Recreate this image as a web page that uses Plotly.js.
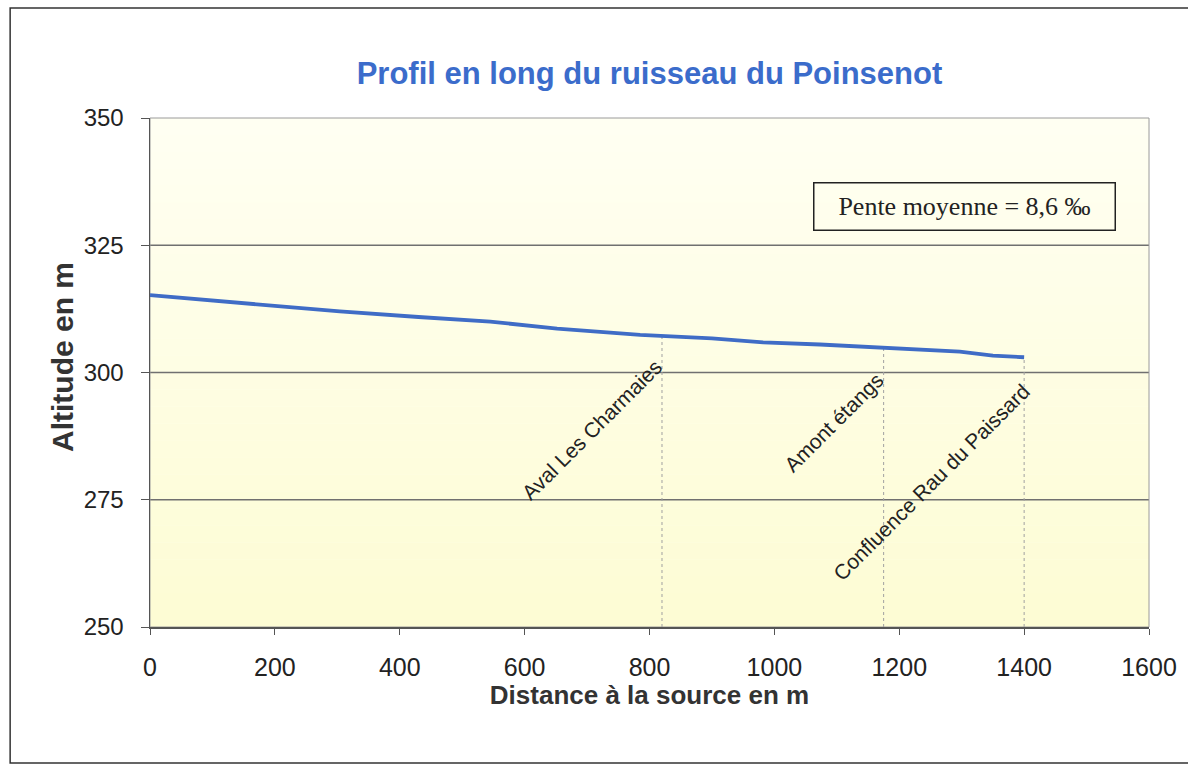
<!DOCTYPE html>
<html>
<head>
<meta charset="utf-8">
<script src="https://cdn.plot.ly/plotly-3.0.1.min.js"></script>
<style>
  html, body { margin: 0; padding: 0; background: #ffffff; }
  #chart { width: 1188px; height: 769px; }
</style>
</head>
<body>
<div id="chart"></div>
<script>
// ---- Data ----
const distance = [0, 150, 304, 430, 545, 652, 785, 900, 982, 1073, 1174, 1238, 1297, 1350, 1400];
const altitude = [315.2, 313.6, 312.0, 310.9, 310.0, 308.6, 307.4, 306.7, 305.9, 305.5, 304.9, 304.5, 304.1, 303.3, 303.0];

const pointNames = ["Aval Les Charmaies", "Amont étangs", "Confluence Rau du Paissard"];
const pointDistance = [820, 1175, 1400];

const xTickValues = [0, 200, 400, 600, 800, 1000, 1200, 1400, 1600];
const yTickValues = [250, 275, 300, 325, 350];

const chartTitle = "Profil en long du ruisseau du Poinsenot";
const xTitle = "Distance à la source en m";
const yTitle = "Altitude en m";
const slopeNote = "Pente moyenne = 8,6 ‰";

// ---- Helpers ----
function altAt(d) {
  for (let i = 0; i < distance.length - 1; i++) {
    if (d >= distance[i] && d <= distance[i + 1]) {
      const t = (d - distance[i]) / (distance[i + 1] - distance[i]);
      return altitude[i] + t * (altitude[i + 1] - altitude[i]);
    }
  }
  return altitude[altitude.length - 1];
}

const sans = "Liberation Sans, Arial, sans-serif";

const traces = [];
// drop lines
pointDistance.forEach(function (d) {
  traces.push({
    x: [d, d], y: [yTickValues[0], altAt(d)],
    mode: "lines", type: "scatter", hoverinfo: "skip", showlegend: false,
    line: { color: "#a0a0a0", width: 1, dash: "dot" }
  });
});
// profile
traces.push({
  x: distance, y: altitude, mode: "lines", type: "scatter", showlegend: false,
  line: { color: "#3F6CC6", width: 3.8 }
});

// gradient background bands
const shapes = [];
const nb = 30;
for (let i = 0; i < nb; i++) {
  const t = i / (nb - 1);
  const r = Math.round(255 - 2 * t), g = Math.round(255 - 3 * t), b = Math.round(242 - 30 * t);
  shapes.push({
    type: "rect", xref: "paper", yref: "paper", layer: "below",
    x0: 0, x1: 1, y0: 1 - (i + 1) / nb, y1: 1 - i / nb,
    fillcolor: "rgb(" + r + "," + g + "," + b + ")", line: { width: 0 }
  });
}
// gridlines on top of the gradient
yTickValues.slice(1, -1).forEach(function (v) {
  shapes.push({
    type: "line", xref: "paper", yref: "y", layer: "below",
    x0: 0, x1: 1, y0: v, y1: v, line: { color: "#707070", width: 1.5 }
  });
});
// plot-area border (light)
shapes.push({
  type: "rect", xref: "paper", yref: "paper", layer: "below",
  x0: 0, x1: 1, y0: 0, y1: 1, line: { color: "#9a9a9a", width: 1 }
});
// outer frame of the figure
shapes.push({
  type: "rect", xref: "paper", yref: "paper", layer: "above",
  x0: -0.140, x1: 1.045, y0: -0.267, y1: 1.216,
  line: { color: "#333333", width: 1.5 }
});

// label offsets (pixels) from the anchor at (distance, 300)
const labelOffsets = [[-70, 57], [-50, 50], [-93, 110]];
const annotations = pointNames.map(function (name, i) {
  return {
    x: pointDistance[i], y: 300, xref: "x", yref: "y",
    text: name, showarrow: true, arrowcolor: "rgba(0,0,0,0)", arrowwidth: 0.1,
    ax: labelOffsets[i][0], ay: labelOffsets[i][1],
    textangle: -45, font: { family: sans, size: 21, color: "#222222" }
  };
});
annotations.push({
  xref: "paper", yref: "paper", x: 0.815, y: 0.826,
  xanchor: "center", yanchor: "middle", showarrow: false,
  text: slopeNote, width: 300, height: 46, align: "center", valign: "middle",
  bordercolor: "#222222", borderwidth: 1.5, borderpad: 0,
  font: { family: "Liberation Serif, Times New Roman, serif", size: 26, color: "#222222" }
});
// y-axis title
annotations.push({
  xref: "paper", yref: "paper", x: (62 - 150) / 999, y: (627 - 357) / 509,
  xanchor: "center", yanchor: "middle", showarrow: false,
  text: yTitle, textangle: -90,
  font: { family: sans, size: 30, color: "#333333", weight: "bold" }
});

const layout = {
  width: 1188, height: 769,
  margin: { l: 150, r: 39, t: 118, b: 142 },
  paper_bgcolor: "#ffffff",
  plot_bgcolor: "#FEFEEA",
  showlegend: false,
  title: {
    text: chartTitle, xref: "paper", x: 0.5, xanchor: "center",
    yref: "container", y: 1 - 73 / 769, yanchor: "middle",
    font: { family: sans, size: 31, color: "#3B6CCB", weight: "bold" }
  },
  xaxis: {
    range: [0, 1600], tickvals: xTickValues, ticktext: xTickValues.map(String),
    showgrid: false, zeroline: false,
    showline: true, linecolor: "#555555", linewidth: 1.5,
    ticks: "outside", ticklen: 6, tickcolor: "#555555", tickwidth: 1,
    ticklabelstandoff: 11,
    tickfont: { family: sans, size: 25, color: "#222222" },
    title: { text: xTitle, standoff: 0, font: { family: sans, size: 26, color: "#333333", weight: "bold" } }
  },
  yaxis: {
    range: [250, 350], tickvals: yTickValues, ticktext: yTickValues.map(String),
    showgrid: false, zeroline: false,
    showline: true, linecolor: "#555555", linewidth: 1.5,
    ticks: "outside", ticklen: 8, tickcolor: "#555555", tickwidth: 1,
    ticklabelstandoff: 12,
    tickfont: { family: sans, size: 24, color: "#222222" }
  },
  shapes: shapes,
  annotations: annotations
};

Plotly.newPlot("chart", traces, layout, { displayModeBar: false, staticPlot: true });
</script>
</body>
</html>
